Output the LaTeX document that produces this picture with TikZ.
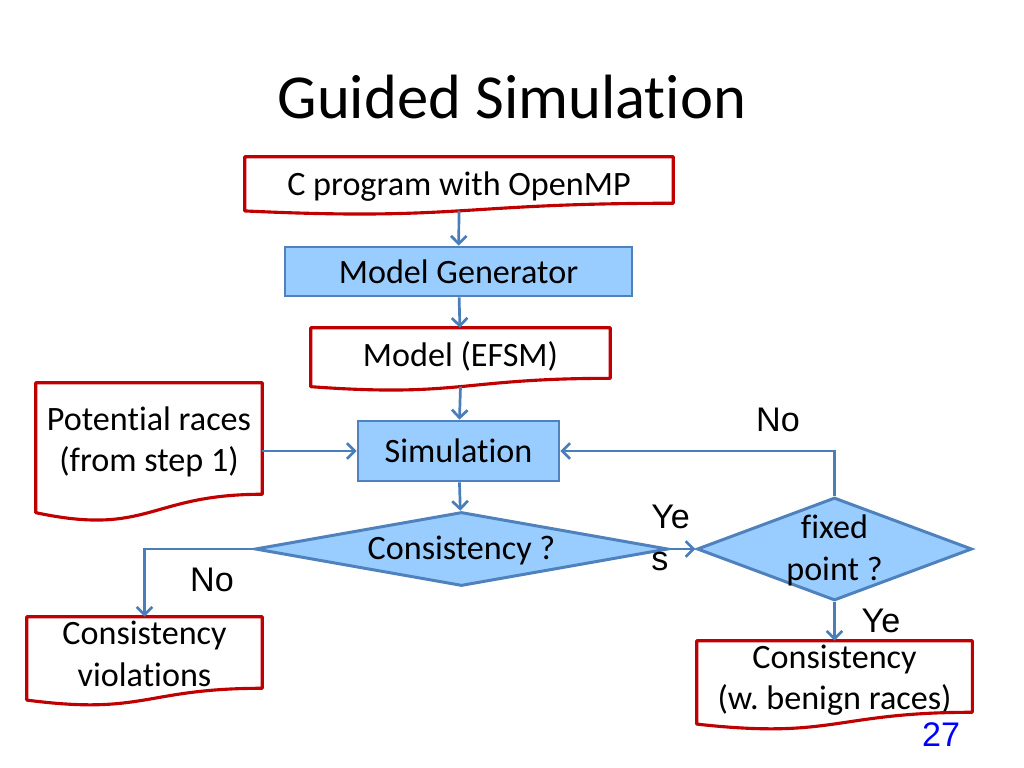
\documentclass[tikz,border=0pt]{standalone}
\usepackage{fontspec}
\setmainfont{Carlito}[Ligatures=NoCommon]
\newfontfamily\arialfont{Liberation Sans}
\usetikzlibrary{shapes.geometric,calc,arrows.meta}
\frenchspacing

\definecolor{docred}{RGB}{192,0,0}
\definecolor{boxfill}{RGB}{153,204,255}
\definecolor{boxline}{RGB}{79,129,189}
\definecolor{flowblue}{RGB}{74,126,187}

\tikzset{
  doc/.style 2 args={minimum width=#1, minimum height=#2, inner sep=0pt},
  doctext/.style={align=center, inner sep=0pt, yshift=-2.5pt},
  docline/.style={draw=docred, line width=2.2pt, line join=round},
  procbox/.style={draw=boxline, fill=boxfill, line width=1.9pt, inner sep=0pt},
  decision/.style 2 args={diamond, draw=boxline, fill=boxfill, line width=2.1pt,
    inner sep=0pt, minimum width=#1, minimum height=#2},
  flow/.style={->, draw=flowblue, line width=1.9pt},
  answer/.style={font=\arialfont\fontsize{24}{29}\selectfont, inner sep=0pt},
}

% document shape: wavy bottom edge below the node
\newcommand\docframe[1]{%
  \draw[docline] (#1.north west) -- (#1.north east) -- (#1.south east)
    .. controls (#1.south) and ($(#1.north)!1.381!(#1.south)$)
    .. ($(#1.north west)!1.165!(#1.south west)$) -- cycle;
  \coordinate (#1-b) at ($(#1.north)!1.1635!(#1.south)$);}

\begin{document}
\begin{tikzpicture}[x=0.7031pt, y=-0.7031pt, >={Straight Barb[length=5.5pt,width=11pt]},
    font=\fontsize{24}{29}\selectfont]
    \useasboundingbox (0,0) rectangle (1024,768);
    \node (title) [font=\fontsize{44}{53}\selectfont] at (512,97) {Guided Simulation};

    \node (cprog) [doc={300.9pt}{32.3pt}, label={[doctext, yshift=-2pt]center:C program with OpenMP}] at (459,180) {};
    \node (gen) [procbox, minimum width=244pt, minimum height=34.5pt] at (458.5,271.5) {Model Generator};
    \node (model) [doc={210.2pt}{35.2pt}, label={[doctext]center:Model (EFSM)}] at (460.5,353) {};
    \node (sim) [procbox, minimum width=141.3pt, minimum height=42.2pt] at (458.5,451) {Simulation};
    \node (races) [doc={158.9pt}{78pt}, label={[doctext]center:Potential races\\(from step 1)}] at (149,438.5) {};
    \node (cons) [decision={290.4pt}{52pt}, label={[yshift=-1pt]center:Consistency ?}] at (461.5,549) {};
    \node (fixp) [decision={193.4pt}{72.4pt}, label={[align=center, yshift=-1pt]center:fixed\\point ?}] at (834.5,549) {};
    \node (viol) [doc={165.2pt}{49.9pt}, label={[doctext, yshift=1.5pt]center:Consistency\\violations}] at (144.5,652.5) {};
    \node (benign) [doc={193.4pt}{49.9pt}, label={[doctext]center:Consistency\\(w. benign races)}] at (834.5,676.5) {};

    \docframe{cprog}
    \docframe{model}
    \docframe{races}
    \docframe{viol}
    \docframe{benign}

    \draw[flow] (cprog-b) -- (gen);
    \draw[flow] (gen) -- (model);
    \draw[flow] (model-b) -- (sim);
    \draw[flow] (races.east |- sim.west) -- (sim.west);
    \draw[flow] (sim) -- (cons);
    \draw[flow] (cons.east) -- (fixp.west);
    \draw[flow] (fixp.north) |- (sim.east);
    \draw[flow] (cons.west) -| (viol.north);
    \draw[flow] (fixp.south) -- (benign.north);

    \node (no1) [answer] at (778,420) {No};
    \node (no2) [answer] at (212,580) {No};
    \node (yes1) [answer, align=left, anchor=west] at (651,538) {Ye\\s};
    \node (yes2) [answer] at (881,621) {Ye};
    \node (page) [answer, text=blue] at (941,735) {27};
\end{tikzpicture}
\end{document}
